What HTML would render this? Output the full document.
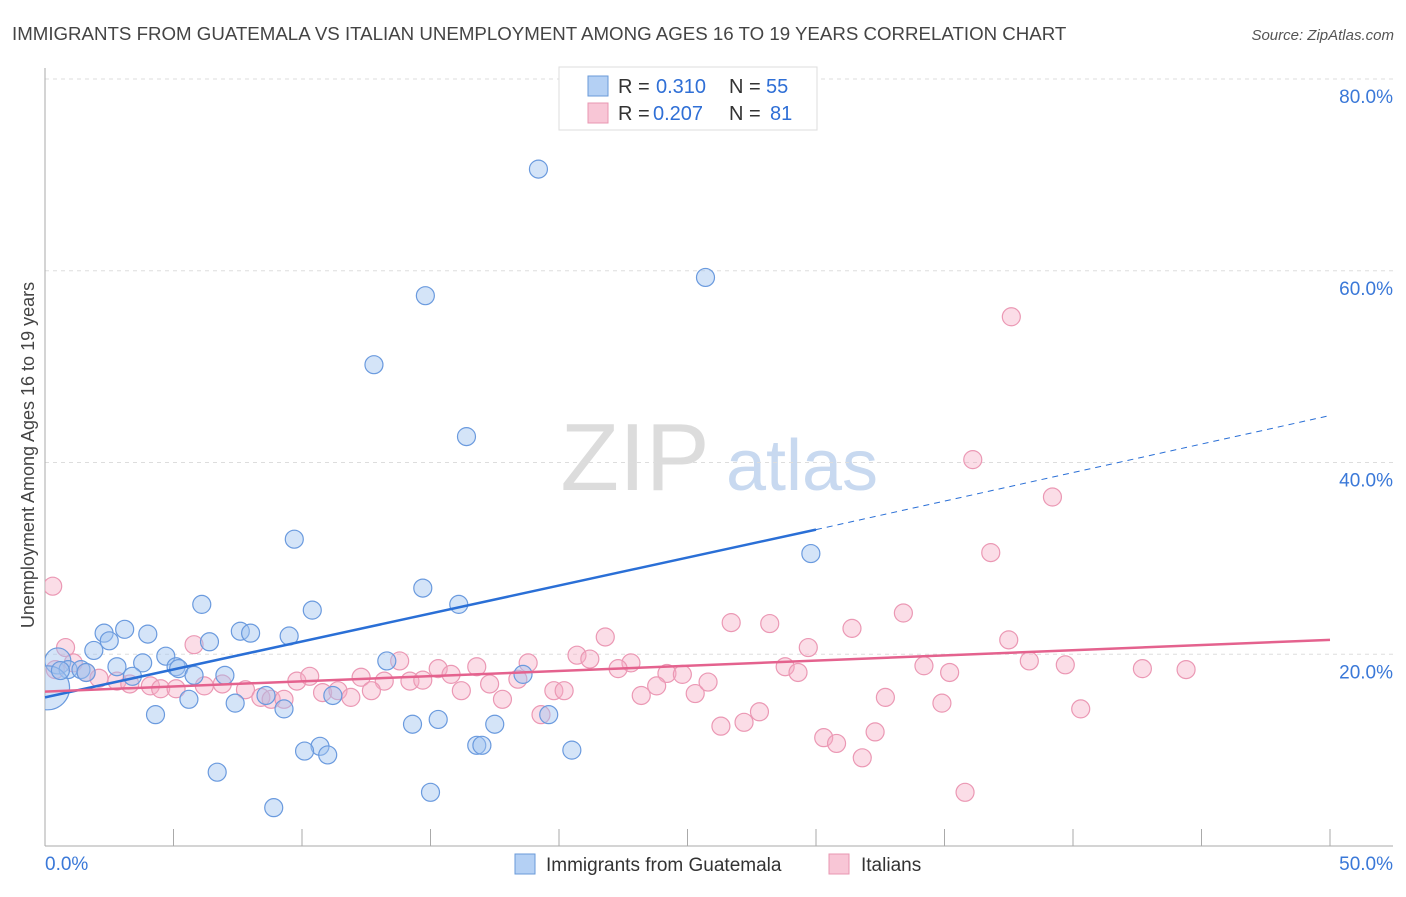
<!DOCTYPE html>
<html><head><meta charset="utf-8"><style>
body{margin:0;background:#fff;font-family:"Liberation Sans",sans-serif}
svg text{font-family:"Liberation Sans",sans-serif}
</style></head><body>
<svg id="c" width="1406" height="892">
<defs><clipPath id="pa"><rect x="45" y="60" width="1360" height="786"/></clipPath></defs>
<text x="12" y="40" font-size="18.7" fill="#444">IMMIGRANTS FROM GUATEMALA VS ITALIAN UNEMPLOYMENT AMONG AGES 16 TO 19 YEARS CORRELATION CHART</text>
<text x="1394" y="40" font-size="15" fill="#555" font-style="italic" text-anchor="end">Source: ZipAtlas.com</text>
<text x="34" y="455" font-size="18" fill="#444" text-anchor="middle" transform="rotate(-90 34 455)">Unemployment Among Ages 16 to 19 years</text>
<g><text x="635" y="490" font-size="96" font-family="Liberation Serif" fill="#dcdcdc" text-anchor="middle">ZIP</text><text x="802" y="490" font-size="72" fill="#c8d9f0" text-anchor="middle">atlas</text></g>
<g id="grid"></g><g id="pts" clip-path="url(#pa)"></g><g id="lines"></g>
<g>
<rect x="559" y="67" width="258" height="63" fill="#fff" stroke="#ddd"/>
<rect x="588" y="76" width="20" height="20" fill="#b4d0f4" stroke="#6a9ad8"/>
<rect x="588" y="103" width="20" height="20" fill="#f8c6d6" stroke="#e897b2"/>
<text y="93" font-size="20" fill="#333"><tspan x="618">R =</tspan><tspan x="656" fill="#2f6fd6">0.310</tspan><tspan x="729">N =</tspan><tspan x="766" fill="#2f6fd6">55</tspan></text>
<text y="120" font-size="20" fill="#333"><tspan x="618">R =</tspan><tspan x="653" fill="#2f6fd6">0.207</tspan><tspan x="729">N =</tspan><tspan x="770" fill="#2f6fd6">81</tspan></text>
</g>
<g>
<rect x="515" y="854" width="20" height="20" fill="#b4d0f4" stroke="#6a9ad8"/>
<text x="546" y="871" font-size="19" fill="#333">Immigrants from Guatemala</text>
<rect x="829" y="854" width="20" height="20" fill="#f8c6d6" stroke="#e897b2"/>
<text x="861" y="871" font-size="19" fill="#333">Italians</text>
</g>
</svg>
<script>
const yTicks=[20,40,60,80];
const xTickLabels=["0.0%","50.0%"];
const blueX=[19.2,25.7,14.8,12.8,16.4,9.7,29.8,14.7,6.1,16.1,10.4,3.1,2.3,4.0,7.6,8.0,9.5,6.4,2.5,1.9,4.7,0.5,3.8,2.8,5.1,13.3,0.9,1.4,5.2,1.6,5.8,7.0,3.4,18.6,0.1,8.6,11.2,5.6,7.4,9.3,4.3,19.6,14.3,15.3,17.5,10.7,10.1,11.0,16.8,17.0,20.5,6.7,15.0,8.9,0.6];
const blueY=[70.6,59.3,57.4,50.2,42.7,32.0,30.5,26.9,25.2,25.2,24.6,22.6,22.2,22.1,22.4,22.2,21.9,21.3,21.4,20.4,19.8,19.3,19.1,18.7,18.7,19.3,18.4,18.4,18.5,18.1,17.8,17.8,17.7,17.9,16.5,15.7,15.7,15.3,14.9,14.3,13.7,13.7,12.7,13.2,12.7,10.4,9.9,9.5,10.5,10.5,10.0,7.7,5.6,4.0,18.3];
const pinkX=[0.3,0.8,5.8,21.8,37.5,33.4,26.7,28.2,31.4,29.7,20.7,21.2,22.8,38.3,39.7,42.7,44.4,34.2,35.2,28.8,29.3,22.3,24.2,24.8,18.8,16.8,15.3,15.8,13.8,12.3,13.2,14.2,14.7,9.8,10.3,1.1,1.6,2.1,2.8,3.3,4.1,4.5,5.1,6.2,6.9,7.8,8.4,8.8,9.3,10.8,11.4,11.9,12.7,17.3,18.4,16.2,17.8,19.8,20.2,23.2,23.8,25.3,25.8,32.7,34.9,40.3,19.3,27.8,26.3,27.2,30.3,30.8,32.3,31.8,35.8,37.6,36.1,39.2,36.8,0.4];
const pinkY=[27.1,20.7,21.0,21.8,21.5,24.3,23.3,23.2,22.7,20.7,19.9,19.5,19.1,19.3,18.9,18.5,18.4,18.8,18.1,18.7,18.1,18.5,18.0,17.9,19.1,18.7,18.5,17.9,19.3,17.6,17.2,17.2,17.3,17.2,17.7,19.1,18.1,17.5,17.2,16.9,16.7,16.4,16.4,16.7,16.9,16.3,15.5,15.3,15.3,16.0,16.2,15.5,16.2,16.9,17.4,16.2,15.3,16.2,16.2,15.7,16.7,15.9,17.1,15.5,14.9,14.3,13.7,14.0,12.5,12.9,11.3,10.7,11.9,9.2,5.6,55.2,40.3,36.4,30.6,18.4];
const blueTrend=[[0,15.5],[30,33.0],[50,44.9]];
const pinkTrend=[[0,16.1],[50,21.5]];
const NS='http://www.w3.org/2000/svg';
const X=v=>45+v/50*1285, Y=v=>846-v/20*191.75;
function mk(t,a,p){const e=document.createElementNS(NS,t);for(const k in a)e.setAttribute(k,a[k]);p.appendChild(e);return e;}
const g=document.getElementById('grid');
yTicks.forEach(t=>{const l=mk('line',{x1:45,x2:1393,y1:Y(t),y2:Y(t),stroke:'#ddd','stroke-dasharray':'4,4'},g);


const tx=mk('text',{x:1393,y:Y(t)+24,'font-size':19,fill:'#3a78d8','text-anchor':'end'},g);tx.textContent=t.toFixed(1)+'%';

});
const ax=mk('line',{x1:45,x2:45,y1:68,y2:846,stroke:'#aaa'},g);


const bx=mk('line',{x1:45,x2:1393,y1:846,y2:846,stroke:'#aaa'},g);


for(let i=0;i<=10;i++){const t=mk('line',{x1:X(i*5),x2:X(i*5),y1:829,y2:846,stroke:'#aaa'},g);

}
[[0,'start',45],[1,'end',1393]].forEach(([i,a,x])=>{const t=mk('text',{x:x,y:870,'font-size':19,fill:'#3a78d8','text-anchor':a},g);t.textContent=xTickLabels[i];

});
const p=document.getElementById('pts');
pinkX.forEach((v,i)=>{const c=mk('circle',{cx:X(v),cy:Y(pinkY[i]),r:9,fill:'rgba(246,170,196,0.4)',stroke:'#eb98b4','stroke-width':1.2},p);

});
blueX.forEach((v,i)=>{const r=i==34?22:(i==21?13:9);const c=mk('circle',{cx:X(v),cy:Y(blueY[i]),r:r,fill:'rgba(160,196,240,0.45)',stroke:'#6a9ade','stroke-width':1.2},p);

});
const L=document.getElementById('lines');
const b1=mk('line',{x1:X(blueTrend[0][0]),y1:Y(blueTrend[0][1]),x2:X(blueTrend[1][0]),y2:Y(blueTrend[1][1]),stroke:'#2a6fd6','stroke-width':2.5},L);


const b2=mk('line',{x1:X(blueTrend[1][0]),y1:Y(blueTrend[1][1]),x2:X(blueTrend[2][0]),y2:Y(blueTrend[2][1]),stroke:'#2a6fd6','stroke-width':1,'stroke-dasharray':'6,5'},L);


const pl=mk('line',{x1:X(pinkTrend[0][0]),y1:Y(pinkTrend[0][1]),x2:X(pinkTrend[1][0]),y2:Y(pinkTrend[1][1]),stroke:'#e4628e','stroke-width':2.5},L);


</script>
</body></html>
